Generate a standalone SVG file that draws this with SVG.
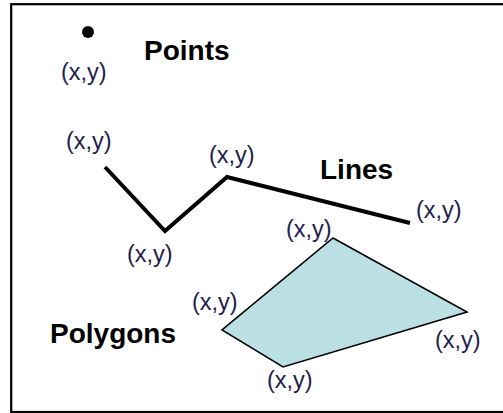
<svg xmlns="http://www.w3.org/2000/svg" width="503" height="413" viewBox="0 0 503 413">
<style>
.lbl{font-family:"Liberation Sans",Arial,sans-serif;font-size:23.5px;fill:#1e1e4e}
.ttl{font-family:"Liberation Sans",Arial,sans-serif;font-size:28px;font-weight:bold;fill:#000}
</style>
<rect x="0" y="0" width="503" height="413" fill="#fff"/>
<rect x="11.2" y="4.2" width="500" height="407.8" fill="none" stroke="#000" stroke-width="2.2"/>
<g id="points">
<circle cx="88" cy="32" r="6" fill="#000"/>
<text class="lbl" x="61" y="80">(x,y)</text>
<text class="ttl" x="144" y="60">Points</text>
</g>
<g id="connectors">
<polyline points="105,167 165,231 227,177 410,223" fill="none" stroke="#000" stroke-width="4" stroke-linejoin="miter"/>
</g>
<g id="lines">
<text class="lbl" x="66" y="149">(x,y)</text>
<text class="lbl" x="209" y="163">(x,y)</text>
<text class="lbl" x="127" y="262">(x,y)</text>
<text class="lbl" x="416" y="218">(x,y)</text>
<text class="ttl" x="320" y="179">Lines</text>
</g>
<g id="polygons">
<polygon points="333,238 467,312 283,367 222,330" fill="#bae0e3" stroke="#000" stroke-width="1.6"/>
<text class="lbl" x="286" y="237">(x,y)</text>
<text class="lbl" x="192" y="310">(x,y)</text>
<text class="lbl" x="435" y="348">(x,y)</text>
<text class="lbl" x="267" y="388">(x,y)</text>
<text class="ttl" x="50" y="343">Polygons</text>
</g>
</svg>
